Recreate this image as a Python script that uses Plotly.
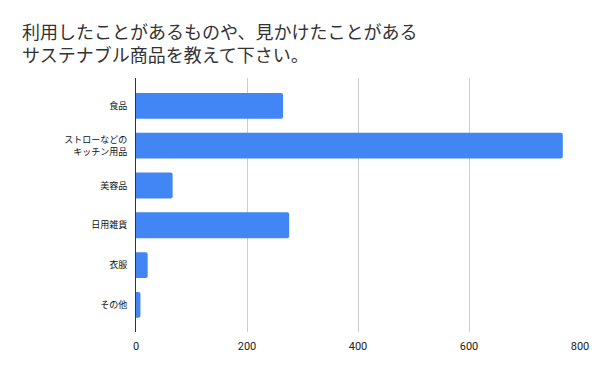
import plotly.graph_objects as go

categories = ["食品", "ストローなどの<br>キッチン用品", "美容品", "日用雑貨", "衣服", "その他"]
values = [265, 769, 66, 276, 21, 8]
x_ticks = [0, 200, 400, 600, 800]
title = "利用したことがあるものや、見かけたことがある<br>サステナブル商品を教えて下さい。"

fig = go.Figure(go.Bar(
    y=categories, x=values, orientation="h",
    marker=dict(color="#4285f4", line=dict(width=0)),
))

fig.update_layout(
    width=600, height=371,
    margin=dict(l=136.3, r=19.7, t=78, b=39, autoexpand=False),
    paper_bgcolor="white", plot_bgcolor="white",
    font=dict(family="Noto Sans CJK JP, Roboto, sans-serif", color="#222"),
    title=dict(text=title, x=22/600, xanchor="left", xref="container",
               y=1-39/371, yanchor="middle", yref="container",
               font=dict(size=18, color="#333")),
    bargap=0.35,
    barcornerradius=2,
    showlegend=False,
)
fig.update_xaxes(range=[0, 800], tickvals=x_ticks, showgrid=True, gridcolor="#cccccc",
                 gridwidth=1, zeroline=False, showline=False, automargin=False,
                 ticks="", ticklabelstandoff=6,
                 tickfont=dict(size=11, family="Roboto, sans-serif", color="#222"))
fig.update_yaxes(range=[5.68, -0.7], showgrid=False, showline=True, linecolor="#333",
                 linewidth=1, ticks="", ticklabelstandoff=6, automargin=False,
                 tickfont=dict(size=9, color="#111"))

fig.write_html("out.html", config={"displayModeBar": False},
               post_script="document.body.style.margin='0';document.body.style.overflow='hidden';")
